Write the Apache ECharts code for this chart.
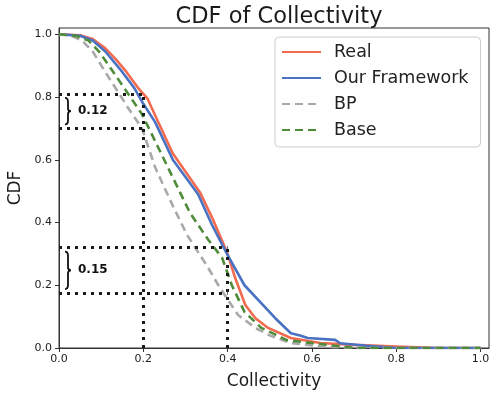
<!doctype html>
<html>
<head>
    <meta charset="utf-8">
    <title>CDF of Collectivity</title>
    <script type="text/javascript" src="https://cdn.jsdelivr.net/npm/echarts@6/dist/echarts.min.js"></script>
    <style>
        html, body { margin: 0; padding: 0; background: #fff; }
        #container { width: 490px; height: 397px; }
    </style>
</head>
<body>
<div id="container"></div>
<script type="text/javascript">
    // curve data
    var realX = [0, 0.05, 0.08, 0.11, 0.135, 0.16, 0.19, 0.21, 0.22, 0.27, 0.335, 0.365, 0.40, 0.418, 0.442, 0.466, 0.496, 0.55, 0.62, 0.70, 0.80, 0.90, 1.0];
    var realY = [1.0, 0.997, 0.985, 0.955, 0.92, 0.88, 0.825, 0.795, 0.765, 0.62, 0.495, 0.41, 0.30, 0.223, 0.137, 0.095, 0.064, 0.032, 0.016, 0.01, 0.005, 0.0, 0.0];

    var fwX = [0, 0.05, 0.08, 0.11, 0.15, 0.178, 0.197, 0.228, 0.27, 0.33, 0.363, 0.40, 0.44, 0.513, 0.55, 0.572, 0.59, 0.655, 0.667, 0.73, 0.80, 1.0];
    var fwY = [1.0, 0.995, 0.98, 0.945, 0.88, 0.83, 0.785, 0.72, 0.60, 0.49, 0.392, 0.296, 0.20, 0.095, 0.047, 0.04, 0.032, 0.026, 0.015, 0.007, 0.0, 0.0];

    var bpX = [0, 0.03, 0.055, 0.08, 0.112, 0.143, 0.164, 0.197, 0.228, 0.271, 0.304, 0.335, 0.352, 0.378, 0.40, 0.425, 0.466, 0.50, 0.55, 0.62, 0.70, 1.0];
    var bpY = [1.0, 0.995, 0.98, 0.945, 0.875, 0.81, 0.765, 0.70, 0.576, 0.45, 0.36, 0.295, 0.26, 0.20, 0.155, 0.105, 0.064, 0.04, 0.016, 0.005, 0.0, 0.0];

    var baseX = [0, 0.04, 0.07, 0.095, 0.126, 0.154, 0.197, 0.264, 0.311, 0.354, 0.387, 0.41, 0.44, 0.48, 0.51, 0.54, 0.65, 0.70, 1.0];
    var baseY = [1.0, 0.995, 0.98, 0.945, 0.885, 0.83, 0.745, 0.56, 0.43, 0.345, 0.287, 0.20, 0.115, 0.064, 0.045, 0.025, 0.008, 0.0, 0.0];

    // guide lines and gap annotations
    var guideX = [0.2, 0.4];
    var guideHi = [0.81, 0.32];
    var guideLo = [0.70, 0.175];
    var gapText = ['0.12', '0.15'];

    var tickValues = [0, 0.2, 0.4, 0.6, 0.8, 1.0];

    function pairs(xs, ys) {
        var out = [];
        for (var i = 0; i < xs.length; i++) out.push([xs[i], ys[i]]);
        return out;
    }

    var guideLines = [];
    var gapData = [];
    for (var i = 0; i < guideX.length; i++) {
        guideLines.push([{coord: [0, guideHi[i]]}, {coord: [guideX[i], guideHi[i]]}]);
        guideLines.push([{coord: [0, guideLo[i]]}, {coord: [guideX[i], guideLo[i]]}]);
        guideLines.push([{coord: [guideX[i], 0]}, {coord: [guideX[i], guideHi[i]]}]);
        gapData.push([0, guideHi[i], guideLo[i], gapText[i]]);
    }

    var font = 'DejaVu Sans';
    var dom = document.getElementById("container");
    var myChart = echarts.init(dom, null, {renderer: 'canvas'});

    function lineSeries(name, data, color, dashed) {
        return {
            name: name,
            type: 'line',
            data: data,
            symbol: 'none',
            showSymbol: false,
            color: color,
            lineStyle: {color: color, width: 2.6, type: dashed ? [8, 5] : 'solid'},
            z: 3
        };
    }

    // curly brace + label for the gap
    function renderBrace(params, api) {
        var top = api.coord([api.value(0), api.value(1)]);
        var bot = api.coord([api.value(0), api.value(2)]);
        var x0 = top[0] + 6;
        var y1 = top[1] + 4, y2 = bot[1] - 4;
        var ym = (y1 + y2) / 2;
        var d = 'M' + x0 + ',' + y1 +
            ' Q' + (x0 + 3) + ',' + y1 + ' ' + (x0 + 3) + ',' + (y1 + 4) +
            ' L' + (x0 + 3) + ',' + (ym - 3) +
            ' Q' + (x0 + 3) + ',' + ym + ' ' + (x0 + 6) + ',' + ym +
            ' Q' + (x0 + 3) + ',' + ym + ' ' + (x0 + 3) + ',' + (ym + 3) +
            ' L' + (x0 + 3) + ',' + (y2 - 4) +
            ' Q' + (x0 + 3) + ',' + y2 + ' ' + x0 + ',' + y2;
        return {
            type: 'group',
            children: [{
                type: 'path',
                shape: {pathData: d},
                style: {fill: null, stroke: '#111', lineWidth: 1.8}
            }, {
                type: 'text',
                style: {
                    x: x0 + 13, y: ym,
                    text: api.value(3),
                    fill: '#111',
                    font: 'bold 12px "DejaVu Sans"',
                    verticalAlign: 'middle'
                }
            }]
        };
    }

    var option = {
        animation: false,
        backgroundColor: '#fff',
        title: {
            text: 'CDF of Collectivity',
            left: 274,
            textAlign: 'center',
            top: 1,
            textStyle: {fontFamily: font, fontSize: 22.5, fontWeight: 'normal', color: '#1a1a1a'}
        },
        grid: {
            left: 59, right: 1, top: 28, bottom: 49,
            outerBoundsMode: 'none',
            containLabel: false,
            show: true, borderColor: '#333', borderWidth: 1, backgroundColor: 'transparent'
        },
        legend: {
            orient: 'vertical',
            left: 275,
            top: 37,
            data: ['Real', 'Our Framework', 'BP', 'Base'],
            itemWidth: 39,
            itemHeight: 18,
            itemGap: 8,
            padding: [6, 12, 8, 6],
            borderColor: '#cccccc',
            borderWidth: 1,
            borderRadius: 4,
            backgroundColor: 'rgba(255,255,255,0.85)',
            itemStyle: {opacity: 0, borderWidth: 0},
            textStyle: {fontFamily: font, fontSize: 17.5, color: '#222', padding: [0, 0, 0, 8], lineHeight: 18}
        },
        xAxis: {
            type: 'value',
            min: 0, max: 1.02,
            name: 'Collectivity',
            nameLocation: 'middle',
            nameGap: 25,
            nameTextStyle: {fontFamily: font, fontSize: 17, color: '#1a1a1a'},
            splitLine: {show: false},
            axisLine: {show: true, lineStyle: {color: '#333', width: 1}},
            axisTick: {show: true, inside: false, length: 4, lineStyle: {color: '#333'}, customValues: tickValues},
            axisLabel: {
                fontFamily: font, fontSize: 11, color: '#222', margin: 6,
                customValues: tickValues,
                formatter: function (v) { return v.toFixed(1); }
            }
        },
        yAxis: {
            type: 'value',
            min: 0, max: 1.02,
            name: 'CDF',
            nameLocation: 'middle',
            nameGap: 32,
            nameTextStyle: {fontFamily: font, fontSize: 17, color: '#1a1a1a'},
            splitLine: {show: false},
            axisLine: {show: true, lineStyle: {color: '#333', width: 1}},
            axisTick: {show: true, inside: false, length: 4, lineStyle: {color: '#333'}, customValues: tickValues},
            axisLabel: {
                fontFamily: font, fontSize: 11, color: '#222', margin: 7,
                customValues: tickValues,
                formatter: function (v) { return v.toFixed(1); }
            }
        },
        series: [
            lineSeries('Real', pairs(realX, realY), '#f26a4f', false),
            lineSeries('Our Framework', pairs(fwX, fwY), '#4a72c2', false),
            lineSeries('BP', pairs(bpX, bpY), '#a9a9a9', true),
            lineSeries('Base', pairs(baseX, baseY), '#4e8c3a', true),
            {
                name: 'guides',
                type: 'line',
                data: [],
                z: 5,
                markLine: {
                    silent: true,
                    symbol: ['none', 'none'],
                    label: {show: false},
                    lineStyle: {color: '#1a1a1a', width: 3, type: [3, 5]},
                    data: guideLines
                }
            },
            {
                name: 'gaps',
                type: 'custom',
                renderItem: renderBrace,
                data: gapData,
                z: 6,
                silent: true
            }
        ]
    };

    if (option && typeof option === "object") {
        myChart.setOption(option, true);
    }
</script>
</body>
</html>
